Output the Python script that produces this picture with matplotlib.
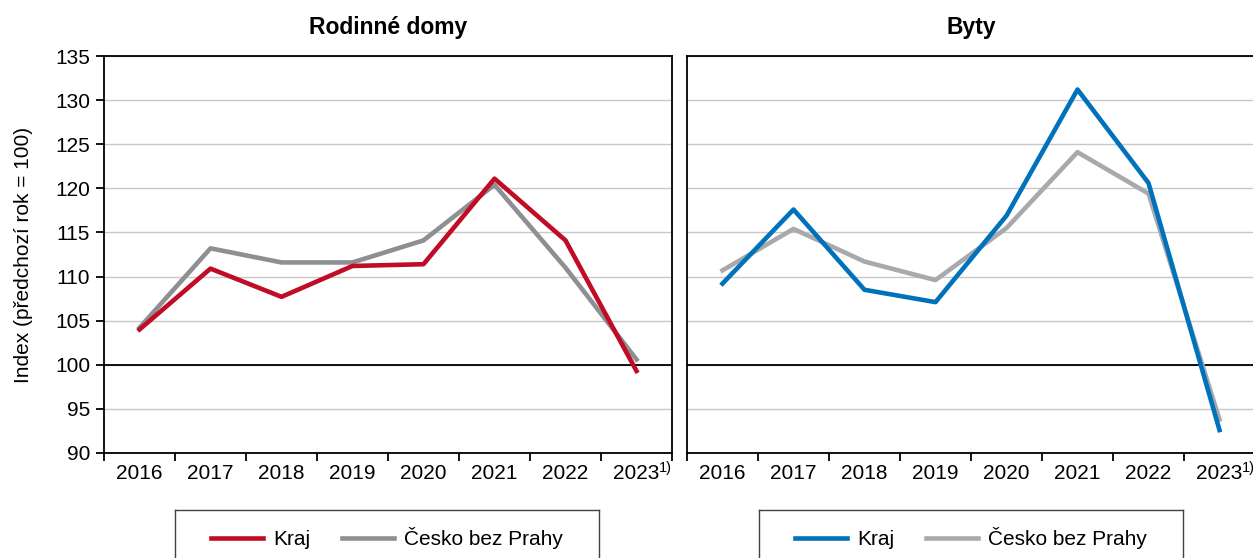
import matplotlib
matplotlib.use("Agg")
import matplotlib.pyplot as plt

plt.rcParams['font.family'] = ['Liberation Sans', 'DejaVu Sans']

years = ['2016', '2017', '2018', '2019', '2020', '2021', '2022', '2023']
year_notes = ['', '', '', '', '', '', '', '1)']

# Rodinné domy
domy_kraj = [104.0, 110.9, 107.7, 111.2, 111.4, 121.1, 114.1, 99.3]
domy_cesko = [104.2, 113.2, 111.6, 111.6, 114.1, 120.4, 111.0, 100.6]

# Byty
byty_kraj = [109.2, 117.6, 108.5, 107.1, 116.9, 131.2, 120.6, 92.6]
byty_cesko = [110.7, 115.4, 111.7, 109.6, 115.5, 124.1, 119.4, 93.8]

series_label = ['Kraj', 'Česko bez Prahy']
titles = ['Rodinné domy', 'Byty']
y_label = 'Index (předchozí rok = 100)'
y_ticks = [90, 95, 100, 105, 110, 115, 120, 125, 130, 135]

W, H = 1253, 558
fig = plt.figure(figsize=(W / 100, H / 100), dpi=100)
FS = 15


def px_axes(x0, y0, x1, y1):
    return fig.add_axes([x0 / W, 1 - y1 / H, (x1 - x0) / W, (y1 - y0) / H])


ax_l = px_axes(104, 56, 672, 453)
ax_r = px_axes(687, 56, 1255, 453)

panels = [
    (ax_l, domy_kraj, domy_cesko, '#C00C24', '#8D8F92'),
    (ax_r, byty_kraj, byty_cesko, '#0072BC', '#A7A9AC'),
]

for i, (ax, kraj, cesko, c1, c2) in enumerate(panels):
    xs = [k + 0.5 for k in range(len(years))]
    ax.plot(xs, kraj, color=c1, lw=3.3, label=series_label[0], zorder=4)
    ax.plot(xs, cesko, color=c2, lw=3.3, label=series_label[1], zorder=3)
    ax.set_xlim(0, len(years))
    ax.set_ylim(90, 135)
    ax.set_yticks(y_ticks)
    ax.grid(axis='y', color='#C8C8C8', lw=1.0, zorder=0)
    ax.axhline(100, color='black', lw=1.3, zorder=2)
    ax.set_axisbelow(True)

    ax.set_xticks(range(len(years) + 1))
    ax.set_xticklabels([])
    ax.set_xticks(xs, minor=True)
    ax.set_xticklabels(years, minor=True, fontsize=FS)
    ax.tick_params(axis='x', which='major', length=6, width=1.3, direction='out')
    ax.tick_params(axis='x', which='minor', length=0, pad=8)

    # footnote markers after the year labels
    for x, note in zip(xs, year_notes):
        if note:
            ax.annotate(note, xy=(x, 0), xycoords=('data', 'axes fraction'),
                        xytext=(16, -5.5), textcoords='offset points',
                        fontsize=10.5, ha='left', va='top')

    for s in ax.spines.values():
        s.set_linewidth(1.3)
        s.set_color('black')

    ax.set_title(titles[i], fontsize=16.5, fontweight='bold', pad=16)

    if i == 0:
        ax.tick_params(axis='y', length=6, width=1.3, labelsize=FS, pad=4)
        ax.set_ylabel(y_label, fontsize=FS, labelpad=16)
    else:
        ax.tick_params(axis='y', length=0, labelleft=False)

# legend boxes below each panel
for ax, (x0, x1) in [(ax_l, (175, 599)), (ax_r, (759, 1183))]:
    lg_ax = px_axes(x0, 510, x1, 566)
    lg_ax.set_xticks([])
    lg_ax.set_yticks([])
    lg_ax.patch.set_alpha(0)
    for s in lg_ax.spines.values():
        s.set_color('#404040')
        s.set_linewidth(1.0)
    lg_ax.spines['bottom'].set_visible(False)
    h, l = ax.get_legend_handles_labels()
    lg_ax.legend(h, l, loc='center', ncol=2, frameon=False, fontsize=FS,
                 handlelength=2.5, columnspacing=1.5, handletextpad=0.5,
                 bbox_to_anchor=(0.5, 0.5))

fig.savefig('out.png', dpi=100)
